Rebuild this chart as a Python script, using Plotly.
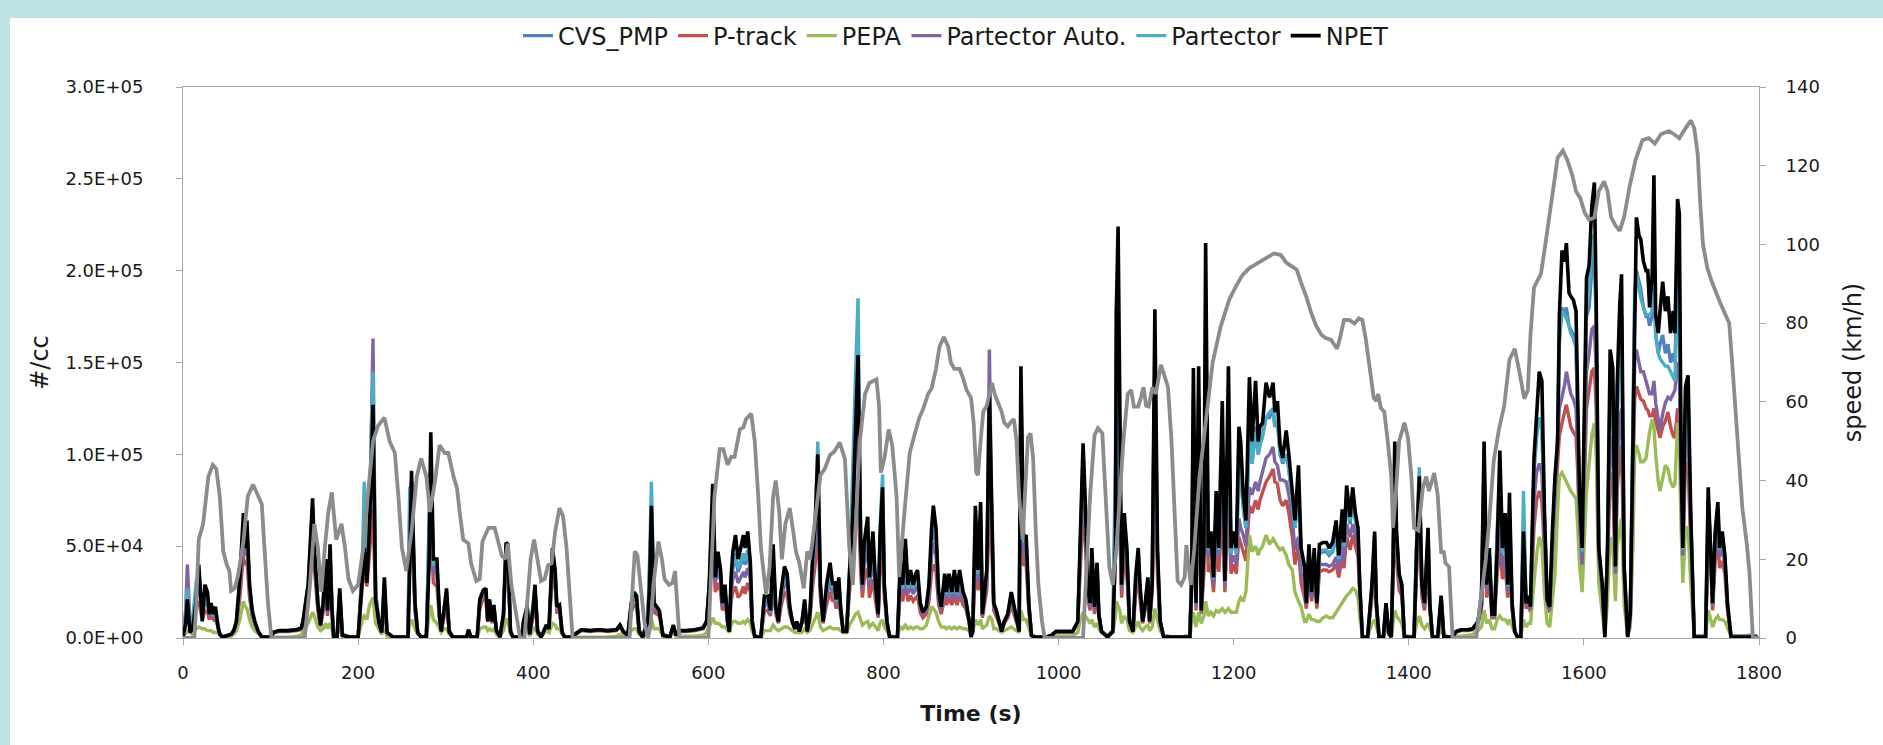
import plotly.graph_objects as go

# ---------------- particle number data (values in thousands of #/cc) ----------------
time_s = [
    # 0-304 s
    0, 3, 5, 8, 11, 15, 18, 22, 25, 28,
    30, 32, 35, 37, 40, 42, 45, 50, 55, 58,
    61, 65, 69, 70, 73, 76, 79, 82, 86, 90,
    101, 103, 110, 120, 130, 135, 137, 143, 148, 150,
    154, 157, 160, 163, 165, 168, 170, 172, 176, 179,
    182, 190, 200, 202, 205, 207, 210, 213, 217, 220,
    224, 227, 230, 233, 240, 257, 259, 261, 265, 268,
    272, 278, 281, 283, 286, 290, 293, 295, 298, 301,
    304,
    # 308-598 s
    308, 316, 324, 326, 329, 336, 339, 343, 346, 348,
    350, 353, 355, 358, 362, 366, 369, 371, 374, 377,
    387, 389, 393, 396, 400, 402, 405, 409, 415, 418,
    422, 425, 427, 430, 433, 436, 445, 449, 455, 465,
    475, 485, 495, 499, 503, 508, 512, 515, 518, 521,
    525, 531, 533, 535, 538, 541, 544, 548, 556, 560,
    563, 567, 575, 585, 594, 598,
    # 601-898 s
    601, 605, 608, 611, 614, 616, 619, 622, 624, 626,
    628, 631, 634, 637, 640, 642, 645, 648, 650, 653,
    660, 664, 668, 671, 674, 677, 680, 683, 687, 690,
    693, 696, 699, 701, 704, 707, 710, 713, 716, 719,
    722, 725, 728, 731, 735, 739, 742, 744, 746, 749,
    751, 754, 758, 762, 765, 768, 771, 774, 776, 778,
    782, 784, 788, 791, 794, 796, 799, 801, 804, 807,
    816, 819, 822, 825, 828, 831, 834, 837, 839, 842,
    845, 849, 852, 855, 857, 860, 863, 866, 870, 872,
    875, 878, 881, 884, 887, 891, 894, 898,
    # 900-1194 s
    900, 902, 905, 908, 911, 913, 915, 918, 921, 924,
    926, 929, 932, 935, 938, 942, 946, 949, 952, 955,
    957, 960, 963, 966, 969, 973, 986, 992, 997, 1005,
    1016, 1022, 1025, 1028, 1031, 1033, 1036, 1038, 1041, 1044,
    1046, 1049, 1056, 1062, 1065, 1066, 1068, 1070, 1072, 1075,
    1078, 1081, 1085, 1088, 1091, 1093, 1096, 1099, 1102, 1104,
    1107, 1110, 1113, 1116, 1120, 1135, 1150, 1152, 1154, 1157,
    1160, 1163, 1166, 1168, 1171, 1174, 1177, 1180, 1183, 1187,
    1190, 1194,
    # 1197-1495 s
    1197, 1200, 1203, 1206, 1208, 1211, 1214, 1218, 1221, 1225,
    1228, 1230, 1233, 1237, 1241, 1245, 1247, 1250, 1253, 1256,
    1260, 1263, 1267, 1270, 1274, 1277, 1281, 1283, 1286, 1289,
    1292, 1295, 1298, 1302, 1306, 1309, 1313, 1317, 1320, 1324,
    1326, 1329, 1333, 1336, 1339, 1342, 1344, 1347, 1353, 1358,
    1361, 1363, 1366, 1371, 1374, 1377, 1380, 1382, 1384, 1386,
    1389, 1392, 1395, 1406, 1409, 1412, 1415, 1418, 1422, 1424,
    1427, 1433, 1437, 1440, 1450, 1454, 1460, 1468, 1473, 1479,
    1483, 1486, 1489, 1492, 1495,
    # 1498-1798 s
    1498, 1501, 1504, 1507, 1510, 1513, 1515, 1518, 1521, 1524,
    1528, 1531, 1534, 1537, 1539, 1543, 1546, 1549, 1552, 1555,
    1558, 1561, 1564, 1567, 1570, 1572, 1575, 1578, 1580, 1583,
    1585, 1588, 1591, 1593, 1595, 1598, 1600, 1603, 1606, 1609,
    1612, 1614, 1617, 1621, 1624, 1627, 1630, 1633, 1636, 1638,
    1641, 1643, 1646, 1650, 1653, 1656, 1658, 1660, 1663, 1665,
    1668, 1671, 1673, 1675, 1678, 1680, 1682, 1685, 1687, 1690,
    1693, 1696, 1699, 1702, 1704, 1707, 1709, 1711, 1713, 1716,
    1719, 1722, 1726, 1739, 1742, 1745, 1747, 1750, 1753, 1755,
    1758, 1761, 1764, 1768, 1780, 1790, 1798,
]

npet_k = [
    .5, 8, 21, 3, 5, 20, 40, 9, 29, 25,
    13, 19, 13, 17, 6, 2, .5, 1, 2, 4,
    9, 33, 68, 49, 64, 29, 15, 9, 3.5, .5,
    .5, 3, 4, 4, 4.5, 5.5, 9, 29, 76, 49,
    19, 7, 19, 43, 15, 51, 17, .5, .5, 27,
    1.5, .5, .5, 13, 39, 49, 30, 60, 127, 21,
    8, 3, 33, 3, .5, .5, 40, 91, 19, 3,
    .5, 1, 40, 112, 43, 43, 12, 3.5, 15, 27,
    3.5,
    .5, .5, .5, 4.5, .5, .5, 21, 26, 27, 9,
    21, 9, 18, 4, .5, 13, 52, 51, 3.5, .5,
    .5, 9, 17, 2, 17, 29, 3.5, .5, 7, 5,
    49, 37, 17, 18, 3, .5, .5, 2.5, 4.5, 4,
    4.5, 4, 4.5, 7, 3.5, 1.5, 19, 25, 23, 3.5,
    .5, 9, 30, 72, 19, 17, 15, 1.5, .5, 7,
    1.5, 4, 4, 4.5, 5.5, 9,
    29, 84, 33, 47, 37, 19, 29, 9, 3.5, 33,
    47, 56, 43, 49, 56, 49, 58, 41, 9, .5,
    .5, 23, 23, 15, 51, 17, 9, 25, 39, 35,
    17, 9, 5, 9, 3.5, 9, 21, 3.5, 13, 43,
    62, 100, 29, 9, 29, 41, 29, 31, 21, 33,
    17, 3.5, 3.5, 43, 66, 111, 154, 52, 29, 52,
    66, 33, 58, 29, 13, 54, 82, 29, 9, .5,
    .5, 39, 29, 54, 29, 37, 29, 35, 37, 19,
    14, 17, 29, 60, 72, 60, 25, 17, 35, 25,
    35, 25, 37, 25, 37, 25, 21, 9,
    .5, 3.5, 72, 37, 74, 13, 25, 37, 133, 68,
    19, 15, 9, 3.5, 9, 13, 25, 17, 9, 3.5,
    148, 54, 56, 19, 1.5, .5, .5, 1.5, 3.5, 3.5,
    3.5, 9, 56, 106, 68, 29, 19, 49, 17, 41,
    13, 3.5, .5, 3.5, 49, 178, 224, 98, 29, 68,
    49, 9, 3.5, 33, 49, 29, 9, 19, 33, 9,
    30, 179, 49, 9, .5, .5, .5, 30, 147, 19,
    148, 15, 49, 215, 49, 58, 33, 80, 49, 129,
    31, 148,
    49, 58, 49, 115, 107, 78, 64, 142, 107, 140,
    107, 115, 117, 139, 131, 139, 123, 129, 105, 98,
    113, 100, 78, 64, 94, 49, 39, 19, 51, 25,
    49, 19, 51, 52, 52, 49, 52, 64, 45, 70,
    52, 83, 66, 82, 68, 60, 29, .5, .5, 29,
    58, 19, .5, .5, 19, 3, .5, 39, 107, 58,
    35, 29, .5, .5, 49, 88, 29, 19, 60, 19,
    .5, .5, 23, .5, .5, 3.5, 4.5, 4.5, 5, 9,
    19, 107, 29, 49, 13,
    13, 49, 102, 49, 68, 29, 79, 19, 3.5, .5,
    .5, 58, 19, 23, 17, 98, 120, 145, 140, 68,
    21, 17, 58, 88, 107, 176, 211, 205, 215, 188,
    186, 184, 178, 127, 78, 49, 98, 196, 203, 235,
    248, 186, 49, 29, .5, 49, 157, 147, 39, 137,
    182, 198, 39, .5, 13, 107, 196, 229, 219, 217,
    205, 200, 200, 180, 198, 252, 176, 166, 178, 194,
    178, 186, 166, 178, 166, 239, 231, 98, 49, 137,
    143, 68, .5, .5, 82, 49, 19, 58, 74, 49,
    58, 45, 19, .5, .5, .5, .5,
]

cvs_pmp_k = [
    .5, 10, 22, 4, 8, 25, 35, 12, 25, 22,
    14, 17, 12, 15, 6, 2, .5, 1, 2, 4,
    9, 30, 60, 50, 60, 28, 14, 8, 3, .5,
    .5, 3, 4, 4, 4.5, 5, 9, 28, 70, 50,
    20, 8, 18, 38, 15, 45, 16, 1, .5, 25,
    2, .5, .5, 15, 40, 60, 35, 60, 110, 25,
    8, 3, 28, 3, .5, .5, 80, 85, 18, 3,
    .5, 1, 70, 95, 40, 38, 12, 4, 14, 24,
    4,
    .5, .5, .5, 4, .5, .5, 20, 25, 25, 10,
    20, 9, 17, 4, .5, 12, 48, 48, 4, .5,
    .5, 9, 17, 2, 16, 27, 4, .5, 7, 5,
    45, 35, 17, 17, 3, .5, .5, 2.5, 4.5, 4,
    4.5, 4, 4.5, 7, 3.5, 1.5, 18, 23, 21, 4,
    .5, 10, 40, 70, 18, 16, 14, 2, .5, 7,
    1.5, 4, 4, 4.5, 5.5, 9,
    28, 75, 32, 42, 34, 18, 26, 9, 4, 28,
    38, 44, 36, 40, 44, 40, 46, 36, 10, 1,
    .5, 20, 20, 14, 42, 16, 9, 22, 34, 31,
    16, 9, 5, 9, 4, 9, 19, 4, 12, 38,
    55, 90, 28, 9, 25, 35, 26, 28, 20, 29,
    16, 4, 4, 42, 70, 120, 140, 50, 28, 46,
    55, 30, 50, 27, 13, 50, 75, 28, 9, 1,
    .5, 34, 26, 45, 26, 32, 26, 31, 32, 18,
    14, 16, 27, 52, 60, 52, 23, 16, 31, 23,
    31, 23, 32, 23, 32, 23, 20, 9,
    1, 4, 60, 33, 62, 13, 23, 33, 110, 60,
    18, 14, 9, 4, 9, 13, 23, 16, 9, 4,
    130, 50, 52, 18, 2, .5, .5, 1.5, 3.5, 3.5,
    3.5, 9, 55, 95, 62, 28, 18, 45, 16, 38,
    13, 4, 1, 4, 100, 180, 170, 85, 28, 62,
    45, 9, 4, 30, 45, 27, 9, 18, 30, 9,
    40, 150, 45, 9, 1, .5, 1, 40, 130, 18,
    130, 15, 50, 180, 47, 54, 31, 70, 47, 110,
    30, 120,
    46, 55, 46, 95, 90, 72, 60, 115, 95, 115,
    100, 105, 110, 120, 120, 125, 115, 118, 100, 95,
    100, 92, 75, 60, 80, 47, 37, 19, 46, 24,
    45, 19, 46, 47, 47, 45, 47, 56, 42, 62,
    48, 75, 62, 75, 64, 56, 28, 1, .5, 28,
    52, 19, 1, .5, 18, 3, .5, 38, 95, 55,
    33, 28, 1, .5, 50, 85, 28, 18, 55, 18,
    1, .5, 22, 1, .5, 3.5, 4.5, 4.5, 5, 9,
    25, 95, 28, 45, 13,
    13, 60, 90, 47, 60, 28, 70, 18, 4, 1,
    1, 60, 19, 22, 17, 90, 110, 120, 115, 65,
    21, 17, 56, 85, 105, 160, 180, 175, 180, 170,
    168, 165, 160, 120, 75, 47, 90, 175, 180, 200,
    210, 170, 48, 28, 1, 48, 140, 130, 38, 120,
    160, 175, 38, 1, 13, 100, 180, 200, 195, 190,
    180, 175, 175, 170, 175, 210, 165, 155, 160, 165,
    155, 160, 150, 155, 150, 200, 195, 95, 48, 125,
    130, 65, 1, 1, 75, 47, 18, 55, 70, 47,
    55, 43, 18, 1, 1, 1, 1,
]

p_track_k = [
    .5, 8, 14, 5, 8, 18, 20, 10, 15, 14,
    10, 12, 10, 11, 5, 2, .5, 1, 2, 3,
    7, 22, 45, 40, 42, 22, 12, 7, 3, .5,
    .5, 3, 3.5, 3.5, 4, 4.5, 7, 20, 50, 38,
    15, 6, 14, 28, 12, 32, 12, 1, .5, 18,
    2, .5, .5, 12, 30, 40, 28, 45, 70, 18,
    7, 3, 20, 3, .5, .5, 50, 60, 14, 3,
    .5, 1, 45, 60, 30, 28, 10, 4, 12, 18,
    4,
    .5, .5, .5, 4, .5, .5, 16, 22, 20, 9,
    16, 8, 14, 4, .5, 10, 42, 40, 4, .5,
    .5, 8, 14, 2, 12, 20, 4, .5, 6, 5,
    35, 28, 14, 14, 3, .5, .5, 2, 4, 3.5,
    4, 3.5, 4, 6, 3, 1.5, 14, 18, 17, 4,
    .5, 8, 30, 45, 14, 13, 12, 2, .5, 6,
    1.5, 3.5, 3.5, 4, 5, 8,
    22, 50, 25, 30, 25, 15, 20, 8, 4, 20,
    25, 28, 22, 24, 28, 24, 30, 25, 8, 1,
    .5, 15, 15, 12, 30, 13, 8, 17, 25, 23,
    13, 8, 5, 8, 4, 8, 15, 4, 10, 28,
    40, 60, 22, 8, 18, 25, 20, 21, 16, 22,
    13, 4, 4, 30, 45, 70, 80, 35, 22, 32,
    38, 22, 32, 20, 11, 35, 50, 22, 8, 1,
    .5, 24, 20, 30, 20, 23, 20, 22, 23, 14,
    11, 13, 20, 36, 40, 36, 18, 13, 22, 18,
    22, 18, 23, 18, 23, 18, 16, 8,
    1, 4, 45, 26, 45, 11, 18, 26, 70, 45,
    15, 12, 8, 4, 8, 11, 18, 13, 8, 4,
    120, 40, 40, 15, 2, .5, .5, 1.5, 3, 3,
    3, 8, 42, 70, 48, 22, 15, 34, 13, 28,
    11, 4, 1, 4, 45, 90, 80, 60, 22, 45,
    34, 8, 4, 23, 34, 21, 8, 15, 23, 8,
    25, 100, 34, 8, 1, .5, 1, 25, 90, 15,
    90, 13, 35, 110, 36, 40, 25, 50, 36, 70,
    25, 75,
    35, 40, 35, 55, 52, 48, 42, 72, 68, 75,
    70, 75, 80, 85, 88, 92, 85, 84, 75, 72,
    75, 68, 55, 40, 50, 30, 22, 16, 33, 20,
    33, 16, 36, 37, 37, 36, 37, 40, 33, 45,
    38, 55, 48, 56, 50, 44, 24, 1, .5, 22,
    40, 16, 1, .5, 15, 3, .5, 30, 70, 42,
    26, 23, 1, .5, 38, 60, 22, 15, 40, 15,
    1, .5, 18, 1, .5, 3, 4, 4, 4.5, 8,
    15, 60, 22, 33, 11,
    11, 35, 50, 32, 40, 22, 45, 15, 4, 1,
    1, 45, 16, 18, 14, 60, 75, 80, 75, 45,
    17, 14, 45, 70, 95, 110, 117, 122, 127, 120,
    115, 112, 110, 90, 55, 35, 70, 125, 135, 145,
    147, 125, 40, 22, 1, 38, 90, 85, 30, 80,
    100, 105, 30, 1, 11, 75, 130, 137, 133, 130,
    129, 125, 124, 121, 121, 125, 118, 112, 109, 115,
    118, 123, 115, 110, 109, 125, 120, 75, 40, 95,
    95, 50, 1, 1, 55, 38, 15, 42, 52, 38,
    42, 35, 15, 1, 1, 1, 1,
]

pepa_k = [
    .5, 3, 4, 3, 2, 5, 6, 5, 5, 4,
    4, 4, 3, 3, 3, 2, 1, .5, 1, 2,
    4, 10, 20, 18, 16, 10, 6, 4, 2, .5,
    .5, .5, .5, .5, 1, 1.5, 3, 8, 14, 12,
    6, 4, 5, 8, 5, 8, 5, 1, .5, 6,
    1, .5, .5, 5, 10, 12, 10, 18, 22, 8,
    4, 2, 5, 1, .5, .5, 8, 10, 5, 2,
    .5, .5, 12, 18, 10, 8, 5, 3, 5, 5,
    2,
    .5, .5, .5, 2, .5, .5, 5, 6, 6, 4,
    5, 4, 5, 2, .5, 4, 10, 10, 2, .5,
    .5, 3, 5, 1, 5, 6, 2, .5, 4, 3,
    8, 7, 5, 5, 2, .5, .5, .5, .5, .5,
    .5, .5, 1, 2, 1, 1, 4, 5, 5, 2,
    .5, 3, 8, 10, 5, 5, 5, 1, .5, 3,
    1, 1, 1, 1, 1.5, 3,
    6, 11, 8, 8, 7, 6, 6, 4, 3, 7,
    9, 9, 8, 8, 9, 8, 10, 8, 4, 1,
    .5, 4, 4, 4, 7, 5, 4, 5, 6, 6,
    5, 4, 3, 3, 3, 3, 5, 3, 4, 7,
    10, 14, 6, 4, 5, 6, 5, 5, 5, 5,
    4, 3, 3, 8, 10, 13, 14, 10, 7, 8,
    9, 6, 8, 6, 4, 8, 10, 6, 4, 1,
    .5, 6, 5, 7, 5, 6, 5, 6, 6, 5,
    5, 7, 12, 17, 16, 14, 9, 6, 6, 5,
    6, 5, 6, 5, 6, 5, 5, 4,
    1, 3, 10, 7, 10, 5, 6, 7, 12, 10,
    5, 5, 4, 3, 4, 5, 6, 5, 4, 3,
    15, 10, 10, 5, 1, .5, .5, 1, 1, 1,
    1, 3, 10, 14, 12, 10, 8, 10, 6, 8,
    5, 3, 1, 3, 12, 20, 18, 15, 8, 12,
    10, 4, 3, 6, 9, 6, 4, 6, 7, 4,
    6, 16, 9, 4, 1, .5, 1, 8, 14, 6,
    14, 8, 12, 20, 12, 14, 12, 15, 14, 16,
    14, 16,
    14, 14, 14, 20, 22, 20, 25, 56, 47, 50,
    45, 48, 50, 56, 51, 54, 52, 50, 48, 49,
    45, 40, 37, 25, 20, 17, 9, 9, 13, 10,
    10, 9, 9, 11, 12, 11, 11, 14, 17, 20,
    21, 23, 25, 27, 26, 22, 12, 1, .5, 8,
    10, 6, 1, .5, 6, 2, .5, 8, 15, 12,
    10, 8, 1, .5, 8, 12, 7, 5, 8, 5,
    1, .5, 5, 1, .5, 1, 1, 1.5, 2, 4,
    6, 15, 8, 10, 5,
    5, 10, 12, 10, 10, 8, 10, 6, 3, 1,
    1, 10, 6, 8, 8, 30, 45, 55, 50, 25,
    8, 6, 20, 35, 70, 88, 90, 87, 84, 82,
    80, 78, 76, 60, 40, 25, 45, 80, 95, 110,
    117, 100, 30, 15, 1, 20, 55, 50, 20, 50,
    60, 65, 18, 1, 6, 50, 100, 105, 100, 96,
    96, 98, 105, 112, 119, 115, 100, 85, 80, 88,
    94, 92, 85, 82, 84, 117, 110, 60, 30, 60,
    60, 30, 1, 1, 15, 10, 6, 10, 12, 10,
    10, 9, 5, 1, 1, 1, 1,
]

partector_auto_k = [
    .5, 15, 40, 8, 10, 22, 33, 12, 20, 18,
    12, 15, 11, 13, 6, 2, .5, 1, 2, 4,
    8, 28, 55, 45, 52, 25, 13, 8, 3, .5,
    .5, 3, 4, 4, 4.5, 5, 8, 25, 62, 45,
    18, 7, 16, 34, 14, 40, 15, 1, .5, 22,
    2, .5, .5, 14, 38, 55, 32, 60, 163, 22,
    8, 3, 26, 3, .5, .5, 55, 70, 17, 3,
    .5, 1, 55, 80, 36, 35, 11, 4, 13, 22,
    4,
    .5, .5, .5, 4, .5, .5, 19, 24, 23, 9,
    19, 9, 16, 4, .5, 12, 48, 46, 4, .5,
    .5, 9, 16, 2, 15, 25, 4, .5, 7, 5,
    42, 33, 16, 16, 3, .5, .5, 2.5, 4.5, 4,
    4.5, 4, 4.5, 7, 3.5, 1.5, 17, 22, 20, 4,
    .5, 10, 35, 60, 17, 15, 14, 2, .5, 7,
    1.5, 4, 4, 4.5, 5.5, 9,
    26, 60, 30, 38, 31, 17, 24, 9, 4, 25,
    32, 36, 30, 33, 36, 33, 38, 32, 9, 1,
    .5, 18, 18, 13, 36, 15, 9, 20, 30, 28,
    15, 9, 5, 9, 4, 9, 18, 4, 12, 34,
    50, 80, 26, 9, 22, 31, 24, 25, 18, 26,
    15, 4, 4, 38, 60, 100, 120, 45, 26, 40,
    48, 28, 44, 25, 12, 45, 65, 26, 9, 1,
    .5, 30, 24, 38, 24, 28, 24, 27, 28, 17,
    13, 15, 25, 45, 52, 45, 21, 15, 27, 21,
    27, 21, 28, 21, 28, 21, 18, 9,
    1, 4, 55, 30, 56, 12, 21, 30, 157, 55,
    17, 13, 9, 4, 9, 12, 21, 15, 9, 4,
    125, 45, 47, 17, 2, .5, .5, 1.5, 3.5, 3.5,
    3.5, 9, 50, 85, 58, 26, 17, 42, 15, 35,
    12, 4, 1, 4, 60, 110, 100, 70, 26, 55,
    42, 9, 4, 28, 42, 25, 9, 17, 28, 9,
    30, 130, 42, 9, 1, .5, 1, 30, 110, 17,
    110, 14, 45, 140, 44, 50, 29, 62, 44, 90,
    28, 95,
    40, 45, 40, 65, 60, 56, 50, 82, 78, 85,
    80, 85, 90, 98, 100, 104, 96, 94, 86, 86,
    85, 78, 65, 48, 55, 35, 30, 18, 38, 22,
    38, 18, 40, 40, 40, 39, 40, 44, 37, 50,
    42, 62, 55, 62, 56, 50, 27, 1, .5, 26,
    48, 18, 1, .5, 17, 3, .5, 35, 85, 50,
    30, 26, 1, .5, 45, 75, 26, 17, 50, 17,
    1, .5, 20, 1, .5, 3.5, 4.5, 4.5, 5, 9,
    18, 75, 26, 40, 12,
    12, 45, 65, 38, 45, 25, 55, 17, 4, 1,
    1, 55, 18, 20, 15, 75, 90, 95, 90, 55,
    19, 15, 52, 80, 110, 125, 131, 138, 145, 138,
    133, 130, 125, 100, 62, 40, 80, 145, 155, 168,
    170, 145, 45, 25, 1, 45, 110, 100, 35, 95,
    120, 125, 35, 1, 12, 85, 150, 157, 150, 145,
    145, 140, 138, 133, 133, 140, 128, 118, 113, 122,
    128, 131, 130, 133, 135, 150, 145, 85, 45, 110,
    110, 60, 1, 1, 65, 44, 17, 50, 62, 44,
    50, 40, 17, 1, 1, 1.5, 1,
]

partector_k = [
    .5, 12, 27, 5, 10, 30, 36, 12, 24, 20,
    13, 16, 12, 14, 6, 2, .5, 1, 2, 4,
    9, 32, 62, 50, 58, 28, 14, 8, 3, .5,
    .5, 3, 4, 4, 4.5, 5.5, 9, 30, 72, 50,
    20, 8, 18, 40, 15, 48, 16, 1, .5, 26,
    2, .5, .5, 15, 45, 85, 38, 70, 145, 24,
    8, 3, 30, 3, .5, .5, 82, 80, 18, 3,
    .5, 1, 65, 100, 40, 40, 12, 4, 14, 25,
    4,
    .5, .5, .5, 4.5, .5, .5, 21, 26, 26, 10,
    21, 9, 18, 4, .5, 13, 50, 50, 4, .5,
    .5, 10, 18, 2, 17, 28, 4, .5, 7, 5,
    48, 36, 17, 17, 3, .5, .5, 2.5, 4.5, 4,
    4.5, 4, 4.5, 7, 3.5, 1.5, 19, 24, 22, 4,
    .5, 12, 45, 85, 19, 17, 15, 2, .5, 7,
    1.5, 4, 4, 4.5, 5.5, 9,
    28, 78, 33, 44, 35, 19, 27, 9, 4, 30,
    40, 46, 38, 42, 46, 42, 48, 38, 10, 1,
    .5, 21, 21, 14, 45, 17, 9, 23, 36, 33,
    17, 9, 5, 9, 4, 9, 20, 4, 13, 40,
    60, 107, 28, 9, 26, 37, 27, 29, 20, 30,
    17, 4, 4, 45, 100, 143, 185, 55, 29, 48,
    60, 32, 54, 28, 13, 60, 89, 29, 9, 1,
    .5, 36, 27, 48, 27, 34, 27, 32, 34, 19,
    14, 17, 28, 56, 66, 56, 24, 17, 32, 24,
    32, 24, 34, 24, 34, 24, 20, 9,
    1, 4, 65, 35, 68, 13, 24, 35, 120, 62,
    19, 14, 9, 4, 9, 13, 24, 17, 9, 4,
    140, 52, 54, 19, 2, .5, .5, 1.5, 3.5, 3.5,
    3.5, 9, 56, 100, 65, 29, 19, 47, 17, 40,
    13, 4, 1, 4, 80, 150, 140, 90, 29, 64,
    47, 9, 4, 32, 47, 28, 9, 19, 32, 9,
    35, 160, 47, 9, 1, .5, 1, 35, 130, 19,
    130, 15, 50, 170, 48, 56, 32, 75, 48, 110,
    31, 115,
    46, 55, 46, 90, 88, 70, 60, 110, 95, 112,
    100, 105, 110, 120, 123, 125, 115, 118, 100, 96,
    100, 92, 75, 60, 80, 47, 38, 19, 47, 25,
    46, 19, 47, 48, 48, 46, 48, 58, 43, 65,
    50, 78, 64, 78, 66, 58, 29, 1, .5, 29,
    56, 19, 1, .5, 19, 3, .5, 40, 100, 56,
    34, 29, 1, .5, 55, 93, 30, 19, 58, 19,
    1, .5, 23, 1, .5, 3.5, 4.5, 4.5, 5, 9,
    25, 95, 29, 46, 13,
    13, 55, 85, 46, 58, 28, 68, 19, 4, 1,
    1, 80, 20, 22, 17, 95, 110, 120, 115, 65,
    21, 17, 56, 85, 110, 165, 178, 176, 174, 170,
    166, 163, 158, 120, 75, 47, 95, 180, 190, 215,
    220, 175, 48, 28, 1, 50, 140, 130, 39, 120,
    160, 175, 39, 1, 13, 105, 190, 198, 190, 185,
    180, 176, 176, 176, 178, 200, 165, 155, 152, 150,
    148, 148, 145, 142, 140, 190, 185, 95, 48, 130,
    135, 66, 1, 1, 75, 48, 19, 56, 70, 48,
    56, 44, 19, 1, 1, 1, 1,
]

# ---------------- vehicle speed (km/h) ----------------
speed_t = [
    0, 13, 15, 18, 23, 29, 34, 38, 42, 46, 50, 53, 55, 59, 63, 69, 74, 80, 86, 90,
    93, 97, 101, 139, 145, 150, 154, 158, 162, 166, 170, 175, 181, 185, 189, 194, 200, 206, 211, 217,
    223, 230, 236, 242, 246, 250, 255, 261, 267, 272, 278, 282, 288, 293, 299,
    303, 309, 313, 316, 320, 326, 329, 335, 339, 342, 349, 356, 360, 364, 368, 371, 375, 379, 385, 390,
    393, 397, 401, 406, 409, 413, 417, 421, 425, 430, 434, 438, 442, 445, 510, 513, 516, 519, 523, 527,
    531, 534, 538, 543, 547, 550, 555, 559, 562, 565, 567, 600,
    603, 607, 613, 617, 622, 626, 630, 636, 640, 643, 649, 653, 657, 660, 666, 670, 674, 677, 681, 684,
    688, 693, 697, 700, 704, 709, 713, 716, 719, 724, 728, 733, 739, 744, 750, 756, 761, 765, 769, 773,
    779, 784, 792, 795, 797, 801, 806, 810, 815, 818, 824, 830, 836, 841, 845, 851, 855, 860, 864, 869,
    874, 877, 881, 887, 891, 895, 900,
    903, 906, 908, 911, 914, 918, 921, 924, 927, 931, 935, 938, 942, 946, 949, 952, 955, 959, 962, 965,
    968, 971, 974, 977, 981, 984, 1028, 1032, 1036, 1041, 1045, 1050, 1054, 1058, 1062, 1066, 1070, 1074, 1079, 1083,
    1086, 1091, 1094, 1097, 1100, 1103, 1107, 1111, 1114, 1117, 1121, 1125, 1129, 1132, 1136, 1140, 1144, 1146, 1149, 1151,
    1155, 1161, 1169, 1176, 1185, 1195,
    1203, 1210, 1218, 1229, 1239, 1246, 1254, 1260, 1266, 1272, 1277, 1283, 1288, 1294, 1300, 1305, 1311, 1318, 1321, 1326,
    1332, 1338, 1343, 1347, 1351, 1356, 1360, 1363, 1365, 1368, 1372, 1376, 1380, 1382, 1385, 1389, 1395, 1399, 1403, 1406,
    1411, 1416, 1420, 1423, 1429, 1433, 1437, 1440, 1442, 1446, 1450, 1477, 1482, 1488, 1492, 1497, 1503,
    1509, 1515, 1521, 1526, 1532, 1536, 1539, 1543, 1551, 1556, 1564, 1570, 1576, 1581, 1587, 1591, 1596, 1601, 1606, 1612,
    1617, 1623, 1627, 1631, 1636, 1641, 1646, 1652, 1659, 1667, 1674, 1681, 1688, 1697, 1703, 1709, 1714, 1722, 1726, 1730,
    1733, 1736, 1741, 1747, 1756, 1766, 1770, 1775, 1781, 1786, 1789, 1793, 1800,
]
speed_kmh = [
    0, 0, 8, 25, 29, 41, 44, 43, 36, 22, 18.6, 17, 12, 12.6, 16, 24.5, 36, 39, 36, 34,
    23, 9, 0, 0, 13.5, 29, 23, 11.7, 23, 32, 37, 25, 29, 23, 15, 12, 13.5, 23, 36, 50,
    54, 56, 50, 47, 36, 23, 17, 27, 41, 45.6, 41, 32, 40, 49, 47,
    47, 41, 38, 32, 25, 24, 19, 14.5, 15, 24.5, 28, 28, 24.5, 21, 20, 24, 13.5, 8, 0, 0,
    10, 20, 25, 18, 14.5, 15, 18.5, 19, 27, 33, 31, 23, 9, 0, 0, 10, 22, 21, 13.5, 4,
    0, 3, 15, 24.5, 20, 15, 13.5, 14, 17, 8, 0, 0,
    15, 36, 48, 48, 44, 46, 46, 53, 53.5, 55.6, 57, 50, 36, 23, 11, 18, 36, 40, 32, 20,
    29, 33, 27, 22, 19, 12.6, 22, 20, 24.5, 34, 41.4, 43, 46.5, 47.4, 49.7, 45.5, 23, 13.5, 32, 50,
    62, 64.8, 65.7, 59, 42, 45.5, 53, 49, 36, 15.5, 32, 47, 52, 56, 58, 62, 63.4, 68.4, 74, 76.5,
    74, 70, 68.4, 68.4, 66, 63, 61,
    54.7, 42, 41.4, 50, 57.5, 59, 62, 64.8, 62, 60, 57.5, 54.7, 53.8, 55, 55.6, 50, 36, 25, 36, 51,
    52, 45.5, 27, 13.5, 4.4, 0, 0, 18, 36, 51.5, 53.3, 52, 36, 18, 13.5, 22.7, 36, 50, 62, 63,
    58.8, 58.8, 61, 63.7, 59, 58.8, 63.7, 62, 65.7, 69.4, 66.6, 63.7, 50, 32, 14.5, 13.5, 15.4, 23.6, 18, 13.5,
    22.7, 41, 56.5, 70, 79, 86,
    89.5, 92.2, 94, 95.4, 96.8, 97.7, 97.3, 95.4, 94.5, 93.6, 90.3, 86.7, 83, 79.4, 77.1, 76.2, 75.8, 73.5, 75.8, 80.8,
    80.8, 79.9, 81.2, 80.8, 75.8, 68.4, 61, 60.2, 62, 58.4, 57.5, 50, 41, 28, 36, 50, 54.7, 51, 41, 28,
    27.3, 38.2, 41, 37.3, 41.9, 36.4, 21.8, 21.8, 19, 18.1, 0, 0, 9, 20, 30, 45, 53,
    59, 70.7, 73.5, 68, 60.8, 63, 77, 89, 92.6, 100, 113.5, 122, 123.8, 121.5, 117.4, 113.5, 111.7, 108, 106.3, 106.8,
    113.5, 116, 113.5, 107, 104.8, 103.5, 107, 114.5, 121.5, 126.5, 127, 125.6, 128, 128.8, 128, 127, 128.8, 131.5, 129.6, 123,
    110, 100, 94, 90, 85, 80, 68, 52, 33, 24, 17, 0, 0,
]

left_tick_vals = [0, 50000, 100000, 150000, 200000, 250000, 300000]
left_tick_text = ["0.0E+00", "5.0E+04", "1.0E+05", "1.5E+05", "2.0E+05", "2.5E+05", "3.0E+05"]

series = [
    ("CVS_PMP", cvs_pmp_k, "#4F81BD"),
    ("P-track", p_track_k, "#C0504D"),
    ("PEPA", pepa_k, "#9BBB59"),
    ("Partector Auto.", partector_auto_k, "#8064A2"),
    ("Partector", partector_k, "#4BACC6"),
    ("NPET", npet_k, "#000000"),
]
for name, vals, _ in series:
    assert len(vals) == len(time_s), (name, len(vals), len(time_s))
assert len(speed_t) == len(speed_kmh), (len(speed_t), len(speed_kmh))

fig = go.Figure()
for name, vals, color in series:
    fig.add_trace(go.Scatter(
        x=time_s, y=[v * 1000 for v in vals], name=name, mode="lines",
        line=dict(color=color, width=3.6 if name == "NPET" else 3.4),
    ))
fig.add_trace(go.Scatter(
    x=speed_t, y=speed_kmh, name="speed", mode="lines", yaxis="y2",
    line=dict(color="#8C8C8C", width=3.8), showlegend=False,
))

W, H = 1883, 745
L, R, T, B = 183, 124, 87, 107
pw, ph = W - L - R, H - T - B

def px(xp):
    return (xp - L) / pw

def py(yp):
    return (H - B - yp) / ph

font_main = "DejaVu Sans"
fig.update_layout(
    width=W, height=H, autosize=False,
    margin=dict(l=L, r=R, t=T, b=B),
    paper_bgcolor="#BFE2E7", plot_bgcolor="white",
    font=dict(family=font_main, size=18, color="#1a1a1a"),
    showlegend=True,
    legend=dict(orientation="h", x=px(956), y=py(36), xanchor="center", yanchor="middle",
                font=dict(family=font_main, size=24, color="#1a1a1a"),
                bgcolor="rgba(0,0,0,0)", itemwidth=30, traceorder="normal"),
    xaxis=dict(range=[0, 1800], tickmode="array", tickvals=list(range(0, 1801, 200)),
               showline=True, linecolor="#A6A6A6", linewidth=1, mirror=True,
               ticks="outside", ticklen=6, tickcolor="#A6A6A6", showgrid=False, zeroline=False,
               ticklabelstandoff=12,
               title=dict(text="<b>Time (s)</b>", font=dict(size=22), standoff=24)),
    yaxis=dict(range=[0, 300000], tickmode="array", tickvals=left_tick_vals, ticktext=left_tick_text,
               showline=True, linecolor="#A6A6A6", linewidth=1,
               ticks="outside", ticklen=6, tickcolor="#A6A6A6", showgrid=False, zeroline=False,
               ticklabelstandoff=29,
               title=dict(text="#/cc", font=dict(size=24), standoff=10)),
    yaxis2=dict(range=[0, 140], overlaying="y", side="right", tickmode="array",
                tickvals=list(range(0, 141, 20)),
                showline=True, linecolor="#A6A6A6", linewidth=1,
                ticks="outside", ticklen=6, tickcolor="#A6A6A6", showgrid=False, zeroline=False,
                ticklabelstandoff=16,
                title=dict(text="speed (km/h)", font=dict(size=24), standoff=25)),
    shapes=[dict(type="rect", xref="paper", yref="paper", layer="below",
                 x0=px(10), x1=px(W + 20), y0=py(H + 20), y1=py(18),
                 fillcolor="white", line=dict(width=0))],
)

fig.write_html("out.html", config={"displayModeBar": False},
               post_script="document.body.style.margin='0px';")
